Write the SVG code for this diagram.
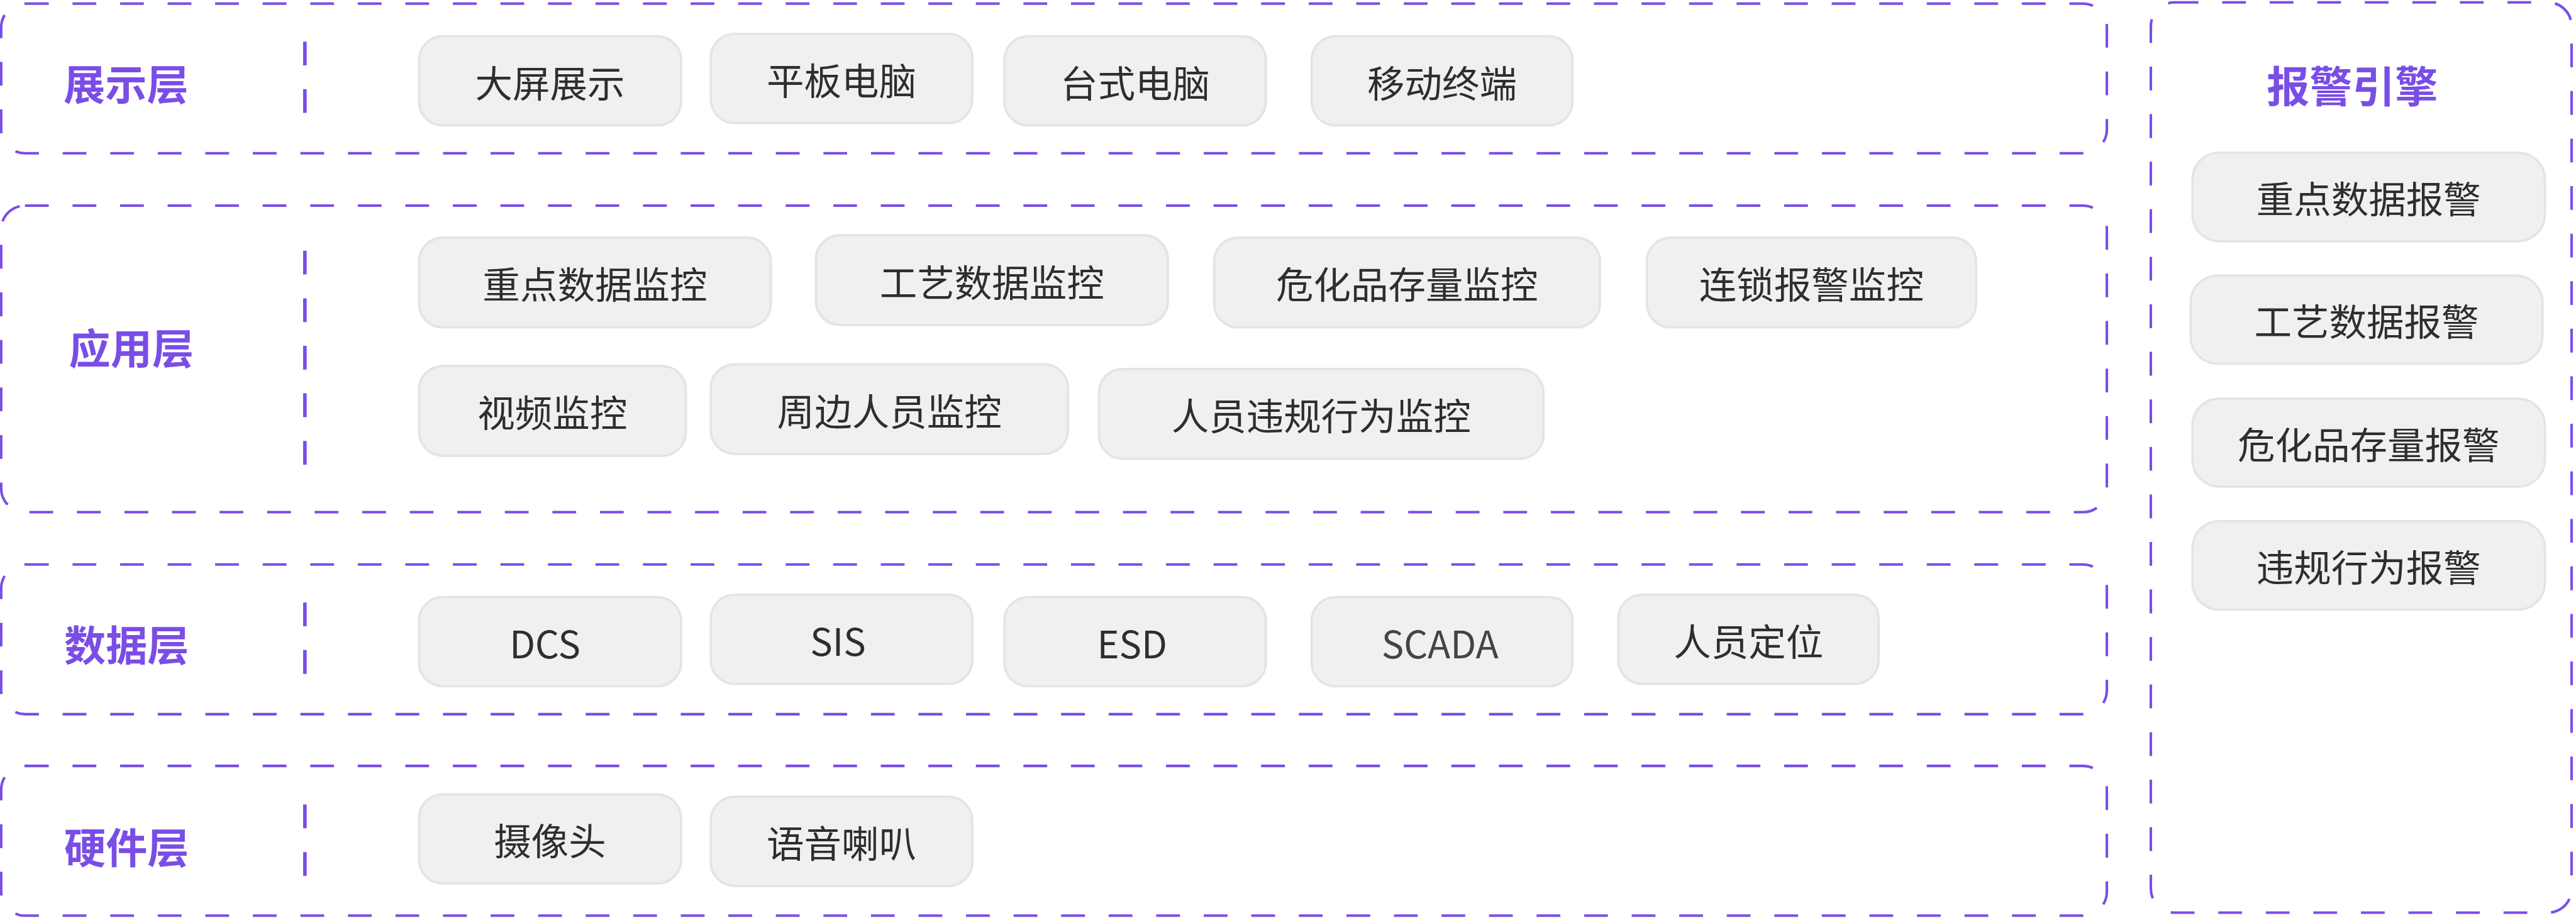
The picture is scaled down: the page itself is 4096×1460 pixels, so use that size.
<svg xmlns="http://www.w3.org/2000/svg" width="4096" height="1460" viewBox="0 0 4096 1460">
<style>
.layer{fill:#ffffff;stroke:#7A4DE6;stroke-width:4.3;stroke-dasharray:40 40}
.div{stroke:#7A4DE6;stroke-width:6;stroke-dasharray:40 40;fill:none}
.lbl{font-family:"Noto Sans CJK SC","Noto Sans",sans-serif;font-weight:700;font-size:70px;fill:#7A4DE6;text-anchor:middle;dominant-baseline:central}
.btn{fill:#f0f0f0;stroke:#e4e4e4;stroke-width:4}
.bt{font-family:"Noto Sans CJK SC","Noto Sans",sans-serif;font-size:63px;fill:#2e2e2e;text-anchor:middle;dominant-baseline:central}
</style>
<rect width="4096" height="1460" fill="#ffffff"/>
<g transform="scale(0.945)">
<g id="layer-display">
<rect class="layer" x="2" y="6" width="3543" height="252" rx="40"/>
<text class="lbl" x="212" y="138">展示层</text>
<line class="div" x1="513" y1="70" x2="513" y2="190"/>
</g>
<g id="n-dapingzhanshi"><rect class="btn" x="705" y="61" width="441" height="150" rx="40"/><text class="bt" x="925.5" y="136">大屏展示</text></g>
<g id="n-pingban"><rect class="btn" x="1196" y="57" width="440" height="150" rx="40"/><text class="bt" x="1416" y="132">平板电脑</text></g>
<g id="n-taishi"><rect class="btn" x="1690" y="61" width="440" height="150" rx="40"/><text class="bt" x="1910" y="136">台式电脑</text></g>
<g id="n-yidong"><rect class="btn" x="2207" y="61" width="439" height="150" rx="40"/><text class="bt" x="2426.5" y="136">移动终端</text></g>

<g id="layer-app">
<rect class="layer" x="2" y="346" width="3543" height="516" rx="40"/>
<text class="lbl" x="221" y="582">应用层</text>
<line class="div" x1="513" y1="422" x2="513" y2="782"/>
</g>
<g id="n-zhongdianjk"><rect class="btn" x="705" y="400" width="592" height="151" rx="40"/><text class="bt" x="1001" y="475.5">重点数据监控</text></g>
<g id="n-gongyijk"><rect class="btn" x="1373" y="396" width="592" height="151" rx="40"/><text class="bt" x="1669" y="471.5">工艺数据监控</text></g>
<g id="n-weihuajk"><rect class="btn" x="2043" y="400" width="649" height="151" rx="40"/><text class="bt" x="2367.5" y="475.5">危化品存量监控</text></g>
<g id="n-liansuojk"><rect class="btn" x="2771" y="400" width="554" height="151" rx="40"/><text class="bt" x="3048" y="475.5">连锁报警监控</text></g>
<g id="n-shipinjk"><rect class="btn" x="705" y="616" width="449" height="151" rx="40"/><text class="bt" x="929.5" y="691.5">视频监控</text></g>
<g id="n-zhoubianjk"><rect class="btn" x="1196" y="613" width="601" height="151" rx="40"/><text class="bt" x="1496.5" y="688.5">周边人员监控</text></g>
<g id="n-weiguijk"><rect class="btn" x="1849" y="621" width="748" height="151" rx="40"/><text class="bt" x="2223" y="696.5">人员违规行为监控</text></g>

<g id="layer-data">
<rect class="layer" x="2" y="950" width="3543" height="252" rx="40"/>
<text class="lbl" x="213" y="1081">数据层</text>
<line class="div" x1="513" y1="1014" x2="513" y2="1134"/>
</g>
<g id="n-dcs"><rect class="btn" x="705" y="1005" width="441" height="150" rx="40"/><text class="bt" x="917" y="1080">DCS</text></g>
<g id="n-sis"><rect class="btn" x="1196" y="1001" width="440" height="150" rx="40"/><text class="bt" x="1410" y="1076">SIS</text></g>
<g id="n-esd"><rect class="btn" x="1690" y="1005" width="440" height="150" rx="40"/><text class="bt" x="1905" y="1080">ESD</text></g>
<g id="n-scada"><rect class="btn" x="2207" y="1005" width="439" height="150" rx="40"/><text class="bt" x="2423" y="1080" style="fill:#444444">SCADA</text></g>
<g id="n-dingwei"><rect class="btn" x="2723" y="1001" width="438" height="150" rx="40"/><text class="bt" x="2942" y="1076">人员定位</text></g>

<g id="layer-hw">
<rect class="layer" x="2" y="1289" width="3543" height="252" rx="40"/>
<text class="lbl" x="213" y="1422">硬件层</text>
<line class="div" x1="513" y1="1354" x2="513" y2="1474"/>
</g>
<g id="n-shexiangtou"><rect class="btn" x="705" y="1337" width="441" height="150" rx="40"/><text class="bt" x="925.5" y="1412">摄像头</text></g>
<g id="n-laba"><rect class="btn" x="1196" y="1341" width="440" height="150" rx="40"/><text class="bt" x="1416" y="1416">语音喇叭</text></g>

<g id="alarm-engine">
<rect class="layer" x="3619" y="4" width="708" height="1532" rx="40"/>
<text class="lbl" x="3958" y="141" style="font-size:72px">报警引擎</text>
</g>
<g id="n-zhongdianbj"><rect class="btn" x="3689" y="257" width="593" height="149" rx="45"/><text class="bt" x="3985.5" y="331.5">重点数据报警</text></g>
<g id="n-gongyibj"><rect class="btn" x="3686" y="464" width="592" height="148" rx="45"/><text class="bt" x="3982" y="538">工艺数据报警</text></g>
<g id="n-weihuabj"><rect class="btn" x="3689" y="671" width="593" height="148" rx="45"/><text class="bt" x="3985.5" y="745">危化品存量报警</text></g>
<g id="n-weiguibj"><rect class="btn" x="3689" y="877" width="593" height="149" rx="45"/><text class="bt" x="3985.5" y="951.5">违规行为报警</text></g>
<g id="connectors"></g>
</g>
</svg>
